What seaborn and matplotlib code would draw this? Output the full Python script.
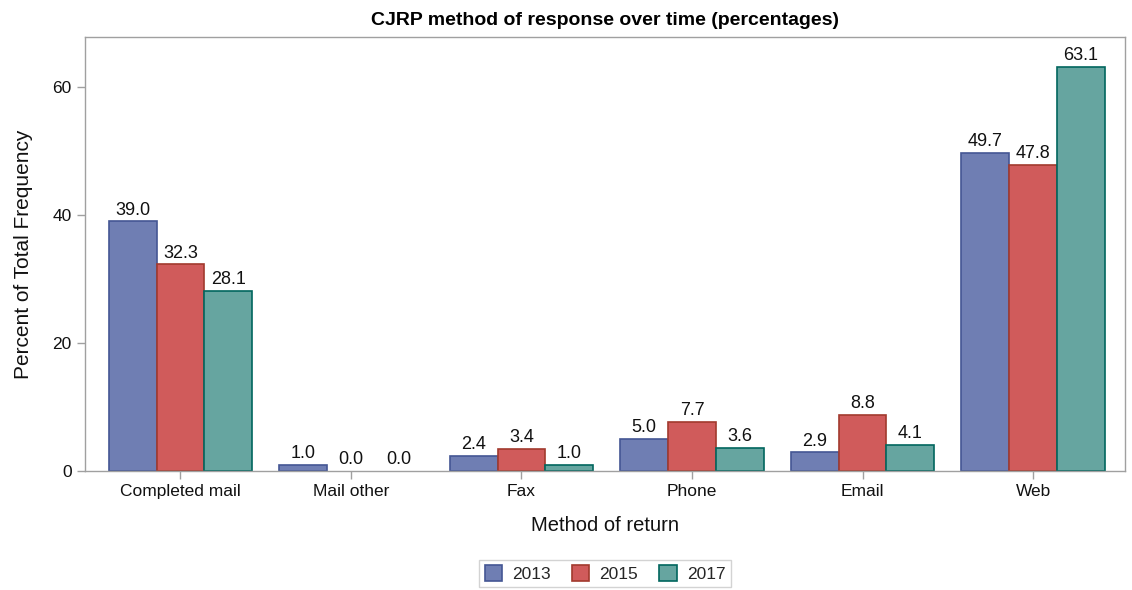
import pandas as pd
import numpy as np
import matplotlib
matplotlib.use("Agg")
import matplotlib.pyplot as plt
import seaborn as sns

# data
methods = ["Completed mail", "Mail other", "Fax", "Phone", "Email", "Web"]
years = ["2013", "2015", "2017"]
pct_2013 = [39.0, 1.0, 2.4, 5.0, 2.9, 49.7]
pct_2015 = [32.3, 0.0, 3.4, 7.7, 8.8, 47.8]
pct_2017 = [28.1, 0.0, 1.0, 3.6, 4.1, 63.1]

fills = ["#6F7EB3", "#D05B5B", "#66A5A0"]
edges = ["#445694", "#A23A2E", "#01665E"]

df = pd.DataFrame({
    "Method": methods * 3,
    "Year": [y for y in years for _ in methods],
    "Pct": pct_2013 + pct_2015 + pct_2017,
})

sns.set_theme(style="white")
plt.rcParams["font.family"] = ["Liberation Sans", "DejaVu Sans"]

fig = plt.figure(figsize=(11.32, 5.90), dpi=100)
ax = fig.add_axes([0.075, 0.2017, 0.919, 0.7353])

sns.barplot(data=df, x="Method", y="Pct", hue="Year", order=methods,
            hue_order=years, palette=fills, width=0.84, saturation=1,
            errorbar=None, ax=ax, linewidth=1.2)

for cont, ec in zip(ax.containers, edges):
    for bar in cont:
        bar.set_edgecolor(ec)
        if bar.get_height() == 0:
            bar.set_linewidth(0)
    ax.bar_label(cont, fmt="%.1f", padding=2, fontsize=13, color="#111111")

ax.set_xlim(-0.56, 5.54)
ax.set_ylim(0, 67.8)
ax.set_yticks([0, 20, 40, 60])
ax.set_title("CJRP method of response over time (percentages)",
             fontsize=14, fontweight="bold", pad=9, color="#000000")
ax.set_xlabel("Method of return", fontsize=14.5, labelpad=12, color="#111111")
ax.set_ylabel("Percent of Total Frequency", fontsize=15, labelpad=14, color="#111111")
ax.tick_params(axis="both", labelsize=12.5, length=6, width=1,
               color="#A0A0A0", bottom=True, left=True, labelcolor="#111111")
for sp in ax.spines.values():
    sp.set_color("#A0A0A0")
    sp.set_linewidth(1)

handles, labels = ax.get_legend_handles_labels()
for h, ec in zip(handles, edges):
    h.set_edgecolor(ec)
ax.legend(handles, labels, loc="upper center", bbox_to_anchor=(0.5, -0.205),
          ncol=3, fontsize=12.5, frameon=True, fancybox=False,
          edgecolor="#C8C8C8", handlelength=1.0, handleheight=1.0,
          columnspacing=1.2, handletextpad=0.6, borderpad=0.3,
          borderaxespad=0)

fig.savefig("out.png", dpi=100)
